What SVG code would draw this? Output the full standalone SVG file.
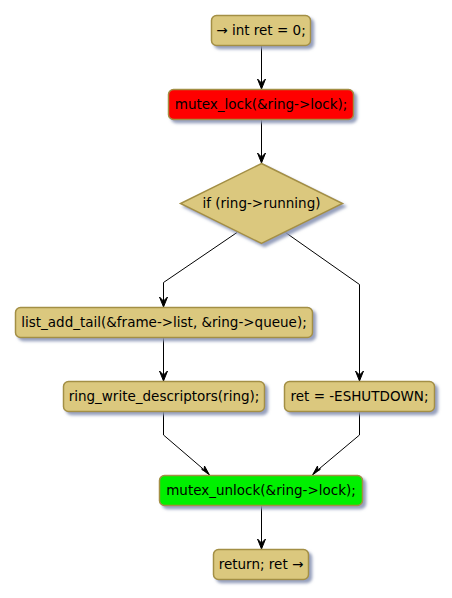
<svg xmlns="http://www.w3.org/2000/svg" width="452" height="598" viewBox="0 0 452 598">
<defs>
<filter id="sh" x="-10%" y="-20%" width="130%" height="160%">
<feGaussianBlur in="SourceAlpha" stdDeviation="1.5" result="b"/>
<feOffset in="b" dx="3" dy="3" result="o"/>
<feFlood flood-color="#8A95B5" flood-opacity="0.9"/>
<feComposite in2="o" operator="in" result="s"/>
<feMerge><feMergeNode in="s"/><feMergeNode in="SourceGraphic"/></feMerge>
</filter>
</defs>
<style>
.n{fill:#DBC87E;stroke:#A38F45;stroke-width:1.5;filter:url(#sh)}
.red{fill:#FF0000}
.grn{fill:#00F000}
text{font-family:"DejaVu Sans",sans-serif;font-size:13.5px;fill:#000;text-anchor:middle}
.e{fill:none;stroke:#000;stroke-width:1}
.a{fill:#000;stroke:#000;stroke-width:1}
</style>
<rect width="452" height="598" fill="#FFFFFF"/>
<g id="connectors">
<line class="e" x1="261.5" y1="45.5" x2="261.5" y2="88"/>
<polygon class="a" points="257.5,79 261.5,89 265.5,79 261.5,83"/>
<line class="e" x1="261.5" y1="119.5" x2="261.5" y2="162"/>
<polygon class="a" points="257.5,153 261.5,163 265.5,153 261.5,157"/>
<polyline class="e" points="237,232.5 163.5,282.5 163.5,306"/>
<polygon class="a" points="159.5,297 163.5,307 167.5,297 163.5,301"/>
<polyline class="e" points="285.5,232.5 359.5,284.5 359.5,380"/>
<polygon class="a" points="355.5,371 359.5,381 363.5,371 359.5,375"/>
<line class="e" x1="163.5" y1="337.5" x2="163.5" y2="380"/>
<polygon class="a" points="159.5,371 163.5,381 167.5,371 163.5,375"/>
<polyline class="e" points="163.5,411.5 163.5,435 209,474"/>
<polygon class="a" points="201.5,469 209.5,475 204.5,466 204,471"/>
<polyline class="e" points="359.5,411.5 359.5,435 313,474"/>
<polygon class="a" points="320.5,469 312.5,475 317.5,466 318,471"/>
<line class="e" x1="261.5" y1="505.5" x2="261.5" y2="548"/>
<polygon class="a" points="257.5,539 261.5,549 265.5,539 261.5,543"/>
</g>
<g id="start">
<rect class="n" x="211.5" y="15.5" width="99" height="30" rx="5"/>
<text x="261" y="35">→ int ret = 0;</text>
</g>
<g id="lock">
<rect class="n red" x="168.5" y="89.5" width="185" height="30" rx="5"/>
<text x="261" y="109">mutex_lock(&amp;ring-&gt;lock);</text>
</g>
<g id="cond">
<polygon class="n" points="261.5,163.5 342.5,203.5 261.5,243.5 180.5,203.5"/>
<text x="261.5" y="208">if (ring-&gt;running)</text>
</g>
<g id="listadd">
<rect class="n" x="15.5" y="307.5" width="297" height="30" rx="5"/>
<text x="164" y="327">list_add_tail(&amp;frame-&gt;list, &amp;ring-&gt;queue);</text>
</g>
<g id="ringwrite">
<rect class="n" x="63.5" y="381.5" width="201" height="30" rx="5"/>
<text x="164" y="401">ring_write_descriptors(ring);</text>
</g>
<g id="shutdown">
<rect class="n" x="284.5" y="381.5" width="150" height="30" rx="5"/>
<text x="359.5" y="401">ret = -ESHUTDOWN;</text>
</g>
<g id="unlock">
<rect class="n grn" x="159.5" y="475.5" width="203" height="30" rx="5"/>
<text x="261" y="495">mutex_unlock(&amp;ring-&gt;lock);</text>
</g>
<g id="return">
<rect class="n" x="213.5" y="549.5" width="95" height="30" rx="5"/>
<text x="261" y="569">return; ret →</text>
</g>
</svg>
